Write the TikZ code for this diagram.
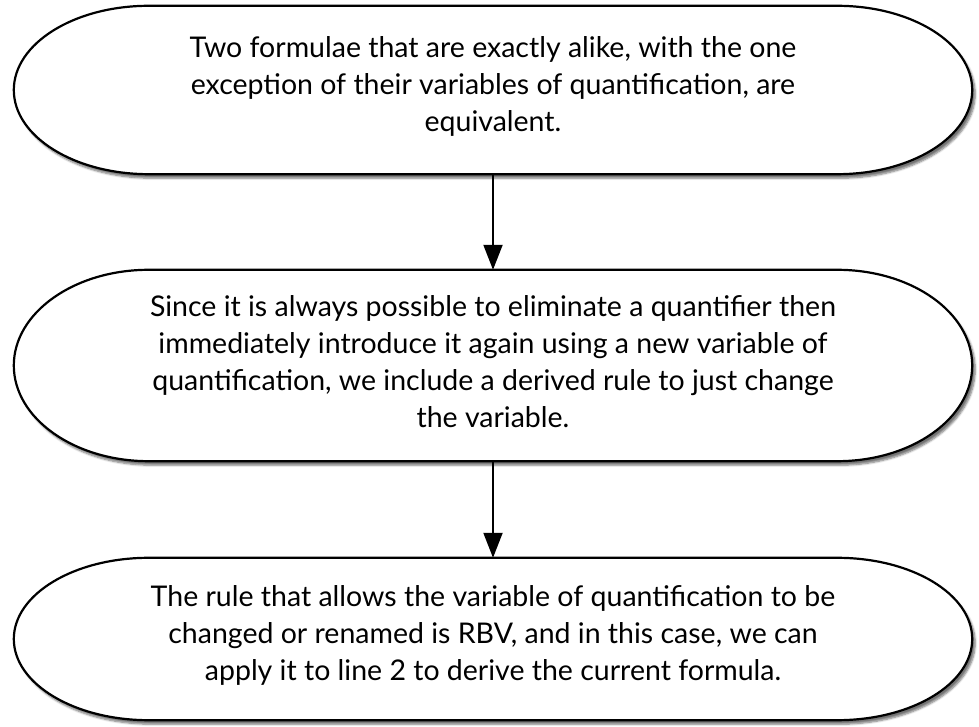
\documentclass[tikz,border=0pt]{standalone}
\usepackage{fontspec}
\setmainfont{Lato}
\usetikzlibrary{arrows.meta,shadows.blur,backgrounds,calc}
\tikzset{
  txt/.style={align=center, font=\fontsize{28.5}{37}\selectfont, inner sep=0pt},
  flow/.style={line width=2pt, -{Triangle[length=25pt,width=19pt]}},
  oval/.style={draw=black, line width=2.2pt, fill=white,
    blur shadow={shadow xshift=3pt, shadow yshift=-4pt, shadow blur steps=6, shadow opacity=55}},
}
\newcommand{\stadium}[2]{% node name, x radius
  \path[oval] ($(#1.north west)+(#2,0)$) -- ($(#1.north east)-(#2,0)$)
    let \p1=($(#1.north)-(#1.south)$) in
    arc[start angle=90, end angle=-90, x radius=#2pt, y radius=0.5*\y1]
    -- ($(#1.south west)+(#2,0)$)
    arc[start angle=270, end angle=90, x radius=#2pt, y radius=0.5*\y1] -- cycle;}
\begin{document}
\begin{tikzpicture}[x=1pt,y=1pt]
\useasboundingbox (0,0) rectangle (979,727);
\node[minimum width=958pt, minimum height=168pt, inner sep=0pt] (a) at (493,637) {};
\node[minimum width=958pt, minimum height=191pt, inner sep=0pt] (b) at (493,361.5) {};
\node[minimum width=958pt, minimum height=162pt, inner sep=0pt] (c) at (493,88) {};
\begin{scope}[on background layer]
\stadium{a}{135}
\stadium{b}{135}
\stadium{c}{135}
\end{scope}
\node[txt] (ta) at ($(a.center)+(0,4)$) {Two formulae that are exactly alike, with the one\\exception of their variables of quantification, are\\equivalent.};
\node[txt] (tb) at ($(b.center)+(0,4)$) {Since it is always possible to eliminate a quantifier then\\immediately introduce it again using a new variable of\\quantification, we include a derived rule to just change\\the variable.};
\node[txt] (tc) at ($(c.center)+(0,4)$) {The rule that allows the variable of quantification to be\\changed or renamed is RBV, and in this case, we can\\apply it to line 2 to derive the current formula.};
\draw[flow] (a.south) -- (b.north);
\draw[flow] (b.south) -- (c.north);
\end{tikzpicture}
\end{document}
